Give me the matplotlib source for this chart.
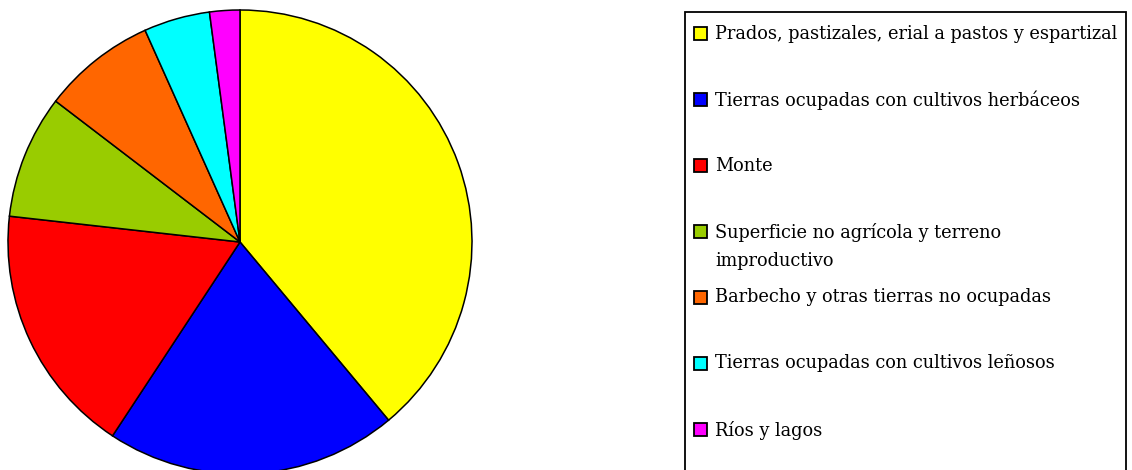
import matplotlib.pyplot as plt
from matplotlib.patches import Rectangle

labels = [
    "Prados, pastizales, erial a pastos y espartizal",
    "Tierras ocupadas con cultivos herbáceos",
    "Monte",
    "Superficie no agrícola y terreno\nimproductivo",
    "Barbecho y otras tierras no ocupadas",
    "Tierras ocupadas con cultivos leñosos",
    "Ríos y lagos",
]
shares = [38.9, 20.3, 17.5, 8.6, 7.9, 4.6, 2.1]
colors = ["#FFFF00", "#0000FF", "#FF0000", "#99CC00", "#FF6600", "#00FFFF", "#FF00FF"]

W, H = 1132, 470
fig = plt.figure(figsize=(W / 100, H / 100), dpi=100, facecolor="white")

# pie: centre (240, 242) px, radius 232 px
ax = fig.add_axes([8 / W, (H - 474) / H, 464 / W, 464 / H])
ax.pie(shares, colors=colors, startangle=90, counterclock=False, radius=1,
       wedgeprops=dict(edgecolor="black", linewidth=1.1))
ax.set_xlim(-1, 1)
ax.set_ylim(-1, 1)
ax.set_aspect("equal")
ax.axis("off")

# legend box, drawn by hand to mimic the spreadsheet look
fig.patches.append(Rectangle((685 / W, -0.1), (1126 - 685) / W, (H - 12) / H + 0.1,
                             transform=fig.transFigure, facecolor="none",
                             edgecolor="black", linewidth=1.3))
# row centres in pixels from the top
rows_y = [33.5, 99.5, 165.5, 231.5, 297, 363, 429]
for lab, col, yy in zip(labels, colors, rows_y):
    fig.patches.append(Rectangle((694 / W, (H - yy - 6.5) / H), 13 / W, 13 / H,
                                 transform=fig.transFigure, facecolor=col,
                                 edgecolor="black", linewidth=1.3))
    fig.text(715 / W, (H - yy + 8.5) / H, lab, family="DejaVu Serif",
             fontsize=12.8, va="top", ha="left", linespacing=1.75)

fig.savefig("out.png", dpi=100)
